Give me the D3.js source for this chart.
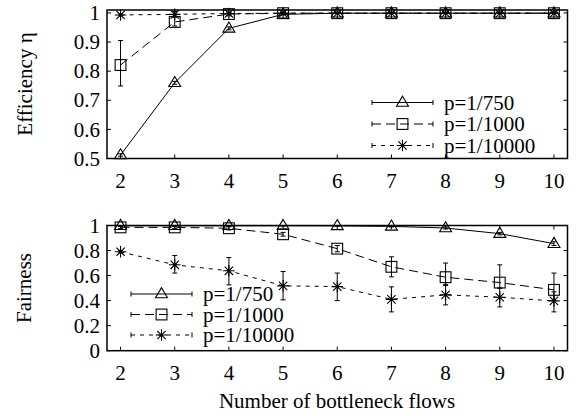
<!DOCTYPE html>
<html>
<head>
<meta charset="utf-8">
<script src="https://cdn.jsdelivr.net/npm/d3@7"></script>
<style>
  html, body { margin: 0; padding: 0; background: #fff; }
  svg { display: block; }
</style>
</head>
<body>
<svg id="chart" width="579" height="418" font-family="'Liberation Serif', 'Times New Roman', Times, serif"></svg>
<script>
// ---------- data ----------
const flows = [2, 3, 4, 5, 6, 7, 8, 9, 10];
const seriesNames = ["p=1/750", "p=1/1000", "p=1/10000"];

const effP750     = [0.512, 0.760, 0.947, 0.995, 0.999, 0.999, 0.999, 0.999, 0.999];
const effP750Lo   = [0.508, 0.755, 0.942, 0.993, 0.998, 0.998, 0.998, 0.998, 0.998];
const effP750Hi   = [0.516, 0.765, 0.952, 0.997, 1.000, 1.000, 1.000, 1.000, 1.000];
const effP1000    = [0.821, 0.969, 0.996, 0.999, 0.999, 0.999, 0.999, 0.999, 0.999];
const effP1000Lo  = [0.749, 0.955, 0.990, 0.997, 0.998, 0.998, 0.998, 0.998, 0.998];
const effP1000Hi  = [0.905, 0.985, 1.000, 1.000, 1.000, 1.000, 1.000, 1.000, 1.000];
const effP10000   = [0.993, 0.995, 0.998, 0.999, 0.999, 0.999, 0.999, 0.999, 0.999];
const effP10000Lo = [0.990, 0.988, 0.995, 0.998, 0.998, 0.998, 0.998, 0.998, 0.998];
const effP10000Hi = [0.997, 1.005, 1.002, 1.000, 1.000, 1.000, 1.000, 1.000, 1.000];

const fairP750     = [0.998, 0.998, 0.998, 0.998, 0.997, 0.993, 0.980, 0.935, 0.855];
const fairP750Lo   = [0.995, 0.995, 0.995, 0.995, 0.994, 0.988, 0.972, 0.925, 0.840];
const fairP750Hi   = [1.000, 1.000, 1.000, 1.000, 1.000, 0.998, 0.988, 0.945, 0.870];
const fairP1000    = [0.985, 0.985, 0.978, 0.930, 0.815, 0.670, 0.587, 0.544, 0.486];
const fairP1000Lo  = [0.975, 0.975, 0.965, 0.915, 0.790, 0.590, 0.520, 0.500, 0.400];
const fairP1000Hi  = [0.995, 0.995, 0.990, 0.945, 0.840, 0.750, 0.700, 0.686, 0.620];
const fairP10000   = [0.790, 0.686, 0.638, 0.518, 0.512, 0.410, 0.446, 0.427, 0.398];
const fairP10000Lo = [0.780, 0.620, 0.526, 0.406, 0.400, 0.310, 0.366, 0.350, 0.310];
const fairP10000Hi = [0.800, 0.760, 0.744, 0.632, 0.620, 0.510, 0.530, 0.500, 0.470];

const effTicks  = [0.5, 0.6, 0.7, 0.8, 0.9, 1];
const effTickLabels = ["0.5", "0.6", "0.7", "0.8", "0.9", "1"];
const fairTicks = [0, 0.2, 0.4, 0.6, 0.8, 1];
const fairTickLabels = ["0", "0.2", "0.4", "0.6", "0.8", "1"];
const xTitle = "Number of bottleneck flows";
const effTitle = "Efficiency η";
const fairTitle = "Fairness";

// ---------- layout ----------
const svg = d3.select("#chart");
const FONT = 21;
const dashes = [null, "9,5", "4,5"];
const markers = ["triangle", "square", "star"];

const x = d3.scaleLinear().domain([1.75, 10.25]).range([107, 567.5]);

function series(vals, lo, hi) {
  return flows.map((f, i) => ({ x: f, y: vals[i], lo: lo[i], hi: hi[i] }));
}

function drawMarker(g, type, cx, cy) {
  if (type === "triangle") {
    const r = 6.3;
    g.append("path")
      .attr("d", `M${cx},${cy - r} L${cx + r * 0.95},${cy + r * 0.6} L${cx - r * 0.95},${cy + r * 0.6} Z`)
      .attr("fill", "none").attr("stroke", "#000").attr("stroke-width", 1.1);
  } else if (type === "square") {
    const r = 5.4;
    g.append("rect").attr("x", cx - r).attr("y", cy - r).attr("width", 2 * r).attr("height", 2 * r)
      .attr("fill", "none").attr("stroke", "#000").attr("stroke-width", 1.1);
  } else {
    const r = 5.8;
    const d = r * 0.72;
    g.append("path")
      .attr("d", `M${cx - r},${cy} L${cx + r},${cy} M${cx},${cy - r} L${cx},${cy + r} M${cx - d},${cy - d} L${cx + d},${cy + d} M${cx - d},${cy + d} L${cx + d},${cy - d}`)
      .attr("fill", "none").attr("stroke", "#000").attr("stroke-width", 1.1);
  }
}

function panel(cfg) {
  const y = d3.scaleLinear().domain(cfg.yDomain).range(cfg.yRange);
  const g = svg.append("g");
  const top = y(cfg.yDomain[1]), bottom = y(cfg.yDomain[0]);
  const left = x.range()[0], right = x.range()[1];

  // inward ticks (mirrored)
  const tl = 4;
  cfg.yTicks.forEach(t => {
    g.append("line").attr("x1", left).attr("x2", left + tl).attr("y1", y(t)).attr("y2", y(t)).attr("stroke", "#000");
    g.append("line").attr("x1", right).attr("x2", right - tl).attr("y1", y(t)).attr("y2", y(t)).attr("stroke", "#000");
  });
  flows.forEach(f => {
    g.append("line").attr("x1", x(f)).attr("x2", x(f)).attr("y1", bottom).attr("y2", bottom - tl).attr("stroke", "#000");
    g.append("line").attr("x1", x(f)).attr("x2", x(f)).attr("y1", top).attr("y2", top + tl).attr("stroke", "#000");
  });

  // y labels
  cfg.yTicks.forEach((t, i) => {
    g.append("text").attr("x", left - 7).attr("y", y(t)).attr("dy", "0.34em")
      .attr("text-anchor", "end").attr("font-size", FONT).text(cfg.yTickLabels[i]);
  });
  // x labels
  flows.forEach(f => {
    g.append("text").attr("x", x(f)).attr("y", bottom + 29)
      .attr("text-anchor", "middle").attr("font-size", FONT).text(String(f));
  });
  // y title
  g.append("text").attr("transform", `translate(${cfg.titleX},${cfg.titleY}) rotate(-90)`)
    .attr("text-anchor", "middle").attr("dy", "0.34em").attr("font-size", FONT).text(cfg.title);

  // series
  const line = d3.line().x(d => x(d.x)).y(d => y(d.y));
  cfg.series.forEach((s, si) => {
    const sg = g.append("g");
    sg.append("path").datum(s).attr("d", line).attr("fill", "none").attr("stroke", "#000")
      .attr("stroke-width", 1).attr("stroke-dasharray", dashes[si]);
    s.forEach(d => {
      const cap = 2.5;
      sg.append("line").attr("x1", x(d.x)).attr("x2", x(d.x)).attr("y1", y(d.lo)).attr("y2", y(d.hi)).attr("stroke", "#000");
      sg.append("line").attr("x1", x(d.x) - cap).attr("x2", x(d.x) + cap).attr("y1", y(d.lo)).attr("y2", y(d.lo)).attr("stroke", "#000");
      sg.append("line").attr("x1", x(d.x) - cap).attr("x2", x(d.x) + cap).attr("y1", y(d.hi)).attr("y2", y(d.hi)).attr("stroke", "#000");
      drawMarker(sg, markers[si], x(d.x), y(d.y));
    });
  });

  // frame
  g.append("rect").attr("x", left).attr("y", top).attr("width", right - left).attr("height", bottom - top)
    .attr("fill", "none").attr("stroke", "#000").attr("stroke-width", 1.5);

  // legend
  seriesNames.forEach((name, i) => {
    const ly = cfg.legendY + i * cfg.legendStep;
    const x0 = cfg.legendX, x1 = cfg.legendX + 61;
    const lg = g.append("g");
    lg.append("line").attr("x1", x0).attr("x2", x1).attr("y1", ly).attr("y2", ly)
      .attr("stroke", "#000").attr("stroke-dasharray", dashes[i]);
    lg.append("line").attr("x1", x0).attr("x2", x0).attr("y1", ly - 2.5).attr("y2", ly + 2.5).attr("stroke", "#000");
    lg.append("line").attr("x1", x1).attr("x2", x1).attr("y1", ly - 2.5).attr("y2", ly + 2.5).attr("stroke", "#000");
    drawMarker(lg, markers[i], (x0 + x1) / 2, ly);
    lg.append("text").attr("x", x1 + 11).attr("y", ly).attr("dy", "0.34em")
      .attr("font-size", FONT).text(name);
  });
}

panel({
  yDomain: [0.5, 1.01], yRange: [158.5, 10],
  yTicks: effTicks, yTickLabels: effTickLabels,
  title: effTitle, titleX: 25, titleY: 84,
  series: [series(effP750, effP750Lo, effP750Hi), series(effP1000, effP1000Lo, effP1000Hi), series(effP10000, effP10000Lo, effP10000Hi)],
  legendX: 372, legendY: 102.5, legendStep: 21.5
});

panel({
  yDomain: [0, 1], yRange: [350.7, 225.5],
  yTicks: fairTicks, yTickLabels: fairTickLabels,
  title: fairTitle, titleX: 24, titleY: 288,
  series: [series(fairP750, fairP750Lo, fairP750Hi), series(fairP1000, fairP1000Lo, fairP1000Hi), series(fairP10000, fairP10000Lo, fairP10000Hi)],
  legendX: 131, legendY: 294, legendStep: 20.5
});

svg.append("text").attr("x", 337).attr("y", 408).attr("text-anchor", "middle")
  .attr("font-size", FONT).text(xTitle);
</script>
</body>
</html>
